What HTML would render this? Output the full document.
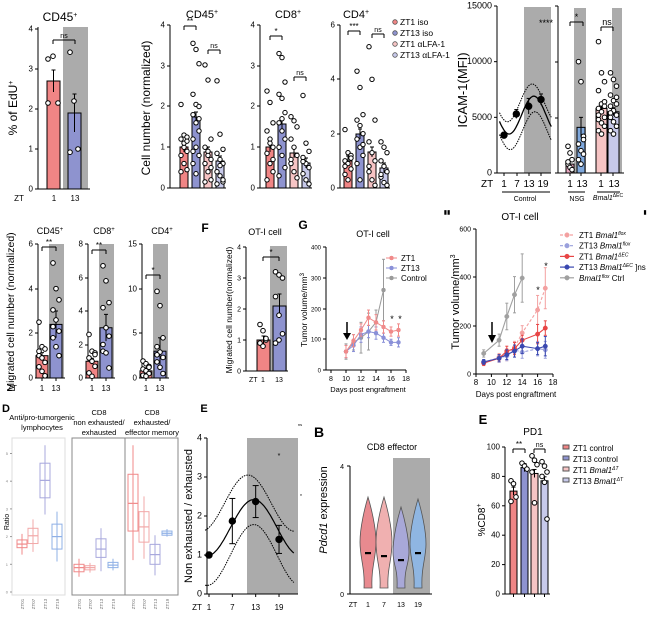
<!DOCTYPE html>
<html><head><meta charset="utf-8"><style>
html,body{margin:0;padding:0;background:#fff;}
svg{display:block;font-family:"Liberation Sans",Arial,sans-serif;}
</style></head><body>
<svg id="s" width="656" height="624" viewBox="0 0 656 624" xmlns="http://www.w3.org/2000/svg"></svg>
<script>
const S=document.getElementById('s');let H='';
const R='#f08585',B='#8e93cf',LR='#f6c4c4',LB='#c7c9ea',G='#ababab',BL='#7fa8dc';
function rect(x,y,w,h,f,st){H+=`<rect x="${x}" y="${y}" width="${w}" height="${h}" fill="${f}" ${st?`stroke="${st}" stroke-width="1"`:''}/>`;}
function line(x1,y1,x2,y2,c='#000',w=1,d=''){H+=`<line x1="${x1}" y1="${y1}" x2="${x2}" y2="${y2}" stroke="${c}" stroke-width="${w}" ${d?`stroke-dasharray="${d}"`:''}/>`;}
function txt(x,y,t,s=8,a='middle',ex=''){H+=`<text x="${x}" y="${y}" font-size="${s}" text-anchor="${a}" ${ex}>${t}</text>`;}
function vtxt(x,y,t,s=10,ex=''){H+=`<text x="${x}" y="${y}" font-size="${s}" text-anchor="middle" transform="rotate(-90 ${x} ${y})" ${ex}>${t}</text>`;}
function circ(x,y,r,f='#fff',st='#000',sw=1){H+=`<circle cx="${x}" cy="${y}" r="${r}" fill="${f}" stroke="${st}" stroke-width="${sw}"/>`;}
function yaxis(x,y0,y1,ticks,labs,s=7){line(x,y0,x,y1);ticks.forEach((ty,i)=>{line(x-3,ty,x,ty);if(labs)txt(x-5,ty+2.5,labs[i],s,'end');});}
function bar(x,w,base,top,f,err){rect(x,top,w,base-top,f,'#000');if(err){line(x+w/2,top-err,x+w/2,top+err);line(x+w/2-2,top-err,x+w/2+2,top-err);}}
function dots(cx,sp,base,sc,vals,r=2.3){vals.forEach((v,i)=>{circ(cx+((i%3)-1)*sp,base-v*sc,r);});}
function brk(x1,x2,y,t,s=8){line(x1,y,x2,y);line(x1,y,x1,y+4);line(x2,y,x2,y+4);txt((x1+x2)/2,y-2,t,s);}

// ---- Panel A1 CD45 EdU
txt(60,21,'CD45<tspan font-size="7" dy="-4">+</tspan>',12);
rect(63,27,25,162,G);
yaxis(38,27,189,[29,69,109,149,189],['4','3','2','1','0'],8);
line(38,189,90,189);
bar(47,13,189,81,R,11);bar(68,13,189,113,B,19);
dots(53,5,189,40,[3.25,3.32,2.15,2.15]);dots(74,4,189,40,[3.42,2.2,1.0,0.92]);
brk(53,75,40,'ns',7);
vtxt(17,108,'% of EdU<tspan font-size="7" dy="-4">+</tspan>',12);
txt(19,201,'ZT',8);txt(54,201,'1',8);txt(75,201,'13',8);

// ---- CD45 cell number
function cellPanel(ax,bx,title,vals,heights,top,labs,ticks,sig){
 txt(bx+22,18,title,11);
 yaxis(ax,top,188,ticks,labs,8);line(ax,188,bx+46,188);
 const cols=[R,B,LR,LB];
 heights.forEach((h,i)=>{bar(bx+i*12,8,188,h,cols[i],5);});
 vals.forEach((v,i)=>dots(bx+i*12+4,3,188,(188-top)/(labs.length-1),v,2.2));
 brk(bx+4,bx+16,sig.y1,sig.t1,8);brk(bx+28,bx+40,sig.y2,'ns',7);
}
vtxt(150,108,'Cell number (normalized)',12);
cellPanel(170,180,'CD45<tspan font-size="7" dy="-4">+</tspan>',[
[2.05,1.3,1.25,1.2,1.0,0.9,0.8,0.6,0.45,0.4,1.1,1.15],
[3.55,3.4,3.05,2.3,2.05,2.0,1.8,1.6,1.4,1.2,1.0,0.8,0.6,0.35,1.7,0.9],
[3.02,2.65,1.2,1.0,0.9,0.7,0.6,0.4,0.2,0.15,0.8,0.5],
[2.63,1.32,0.95,0.85,0.7,0.6,0.4,0.3,0.15,0.1,0.55,0.2]],[147,117,152,161],25,['4','3','2','1','0'],[25,66,106,147,188],{y1:26,t1:'**',y2:50});
cellPanel(260,266,'CD8<tspan font-size="7" dy="-4">+</tspan>',[
[2.38,2.1,1.6,1.4,1.2,1.0,0.85,0.6,0.4,0.2,1.1,0.7],
[3.3,3.2,2.6,2.3,2.2,1.85,1.6,1.4,1.2,1.0,0.8,0.5,0.3,1.7],
[1.75,1.65,1.5,1.2,1.0,0.8,0.6,0.4,0.25,0.7],
[2.27,1.1,0.9,0.75,0.6,0.5,0.35,0.2,0.1,0.65]],[147,124,153,163],25,['4','3','2','1','0'],[25,66,106,147,188],{y1:36,t1:'*',y2:77});
// CD4
(function(){const ax=340,bx=344,top=25;txt(356,18,'CD4<tspan font-size="7" dy="-4">+</tspan>',11);
yaxis(ax,top,188,[25,79,134,188],['6','4','2','0'],8);line(ax,188,bx+46,188);
const h=[161,134,152,168],cols=[R,B,LR,LB];h.forEach((t,i)=>bar(bx+i*12,8,188,t,cols[i],5));
const sc=163/6;[[2.15,1.3,1.2,1.0,0.9,0.7,0.5,0.3,1.1,0.8],[4.3,3.7,2.7,2.5,2.3,2.0,1.8,1.5,1.2,0.9,0.3,1.6],[5.2,4.0,2.5,1.7,1.3,1.0,0.6,0.3,0.1,0.8],[1.7,1.5,1.3,1.0,0.8,0.6,0.4,0.2,0.1,0.5]].forEach((v,i)=>dots(bx+i*12+4,3,188,sc,v,2.2));
brk(348,360,31,'***',8);brk(372,384,34,'ns',7);})();
// legend
[[R,'ZT1 iso'],[B,'ZT13 iso'],[LR,'ZT1 αLFA-1'],[LB,'ZT13 αLFA-1']].forEach((l,i)=>{circ(395,22+i*11,2.3,l[0],'#555',0.8);txt(400,25+i*11,l[1],8.5,'start');});

// ---- ICAM
(function(){const y=v=>173-v*167/15000;
rect(524,7,27,166,G);rect(574,8,12,165,G);rect(612,8,10,165,G);
yaxis(497,6,173,[y(15000),y(10000),y(5000),y(0)],['15000','10000','5000','0'],9);line(497,173,551,173);
[504,517,529,541].forEach(x=>line(x,173,x,176));
vtxt(467,90,'ICAM-1(MFI)',13);
const X=t=>504+2.056*(t-1);
const mid=t=>5200+1700*Math.cos(2*Math.PI*(t-15.5)/24);
function cur(f,d,w){let p='';for(let t=-1.2;t<=24;t+=0.4){p+=(p?'L':'M')+X(t).toFixed(1)+','+y(f(t)).toFixed(1);}H+=`<path d="${p}" fill="none" stroke="#000" stroke-width="${w}" ${d?`stroke-dasharray="${d}"`:''}/>`;}
cur(mid,'',1.3);cur(t=>mid(t+0.8)+1100,'1.5,1',1);cur(t=>mid(t-0.5)-1400,'1.5,1',1);
[[1,3400,250],[7,5300,400],[13,6000,700],[19,6600,500]].forEach(d=>{line(X(d[0]),y(d[1]+d[2]),X(d[0]),y(d[1]-d[2]));line(X(d[0])-2,y(d[1]+d[2]),X(d[0])+2,y(d[1]+d[2]));circ(X(d[0]),y(d[1]),3.2,'#000');});
txt(546,26,'****',9);
// NSG/Bmal
line(558,6,558,173);[6,62,118,173].forEach(t=>line(555,t,558,t));line(558,173,624,173);
bar(566,8,173,y(800),'#e8a8c0',3);bar(577,8,173,y(4100),BL,10);
dots(570,2,173,167/15000,[2400,1800,1200,800,500,300,1000]);dots(581,2.5,173,167/15000,[10000,8200,3300,2600,2000,1700,1200,800,3000]);
bar(596,11,173,y(5800),LR,4);bar(608,11,173,y(5500),LB,4);
dots(601.5,3,173,167/15000,[11800,9000,8200,7400,6200,6000,5800,5500,5000,4800,4500,4200,3800,3500,6400,5200]);
dots(613.5,3,173,167/15000,[9000,8400,7800,7000,6500,6200,6000,5600,5200,5000,4600,4200,3800,3500,6800,5400]);
brk(570,583,22,'*',9);brk(601,613,27,'ns',9);
[570,581,601,613].forEach(x=>line(x,173,x,176));
txt(481,187,'ZT',10,'start');txt(504,187,'1',10);txt(517,187,'7',10);txt(529,187,'13',10);txt(543,187,'19',10);
txt(570,187,'1',10);txt(582,187,'13',10);txt(601,187,'1',10);txt(614,187,'13',10);
line(502,192,550,192);line(568,192,585,192);line(597,192,620,192);
txt(525,201,'Control',7);txt(577,201,'NSG',7);txt(608,200,'<tspan font-style="italic">Bmal1</tspan><tspan font-size="5" dy="-3">ΔEC</tspan>',7);})();

// ---- migrated
function mig(ax,title,tx,labs,ticks,max,redH,blueH,rv,bv,sig,sy){
 txt(tx,234,title,9);rect(ax+11,244,15,134,G);
 yaxis(ax,244,378,ticks,labs,8);line(ax,378,ax+27,378);
 const sc=134/max;bar(ax-2,12,378,378-redH*sc,R,3);bar(ax+12,12,378,378-blueH*sc,B,(max/10)*sc);
 dots(ax+4,3,378,sc,rv);dots(ax+18,3,378,sc,bv);brk(ax+4,ax+18,sy,sig,8);
 line(ax+4,378,ax+4,381);line(ax+18,378,ax+18,381);txt(ax+4,391,'1',8);txt(ax+18,391,'13',8);
}
mig(38,'CD45<tspan font-size="6" dy="-3">+</tspan>',50,['6','4','2','0'],[244,289,333,378],6,1.0,2.4,[2.5,1.4,1.3,1.0,0.9,0.7,0.5,0.3,0.1,1.2],[5.15,4.0,3.5,3.05,2.6,2.1,1.8,1.4,1.0,2.3],'**',247);
mig(88,'CD8<tspan font-size="6" dy="-3">+</tspan>',104,['8','6','4','2','0'],[244,278,311,345,378],8,1.0,3.0,[2.6,1.6,1.5,1.2,1.0,0.7,0.3,0.1,1.4],[6.7,5.8,4.5,4.2,3.0,2.5,1.6,1.5,0.6,2.0],'**',250);
mig(142,'CD4<tspan font-size="6" dy="-3">+</tspan>',162,['15','10','5','0'],[244,289,333,378],15,0.8,3.0,[1.9,1.6,1.3,1.0,0.8,0.5,0.3,0.2,1.2],[9.7,8.1,4.5,3.5,2.9,2.3,1.8,1.2,0.5,2.6],'*',275);
vtxt(14,312,'Migrated cell number (normalized)',10.5);txt(12,391,'ZT',8);

// ---- F
txt(205,232,'F',12,'middle','font-weight="bold"');txt(265,235,'OT-I cell',9);
rect(270,246,17,125,G);yaxis(246,247,371,[247,278,309,340,371],['4','3','2','1','0'],7);line(246,371,288,371);
bar(257,13,371,340,R,4);bar(273,13,371,306,B,12);
dots(263,3,371,31,[1.5,1.3,1.0,0.9,0.8,1.05]);dots(279,3.5,371,31,[3.2,3.1,3.0,2.4,1.8,1.2,0.9,1.0]);
brk(263,279,257,'*',8);txt(249,382,'ZT',7,'start');txt(263,382,'1',7);txt(279,382,'13',7);
vtxt(232,310,'Migrated cell number(normalized)',8.5);

// ---- G
(function(){txt(303,229,'G',12,'middle','font-weight="bold"');txt(373,237,'OT-I cell',9);
const X=d=>331+7.5*(d-8),Y=v=>370-v*0.3075;
yaxis(326,247,370,[247,278,309,339,370],['400','300','200','100','0'],6);
line(326,370,406,370);[8,10,12,14,16,18].forEach(d=>{line(X(d),370,X(d),373);txt(X(d),381,d,7);});
txt(368,392,'Days post engraftment',7.5);vtxt(307,310,'Tumor volume/mm<tspan font-size="6" dy="-3">3</tspan>',8.5);
function ser(c,pts,d,e){let p='';pts.forEach(q=>{p+=(p?'L':'M')+X(q[0])+','+Y(q[1]);});H+=`<path d="${p}" fill="none" stroke="${c}" stroke-width="1" ${d?`stroke-dasharray="${d}"`:''}/>`;pts.forEach(q=>{const ee=q[2]||e;line(X(q[0]),Y(q[1]-ee),X(q[0]),Y(q[1]+ee),c);line(X(q[0])-1.5,Y(q[1]+ee),X(q[0])+1.5,Y(q[1]+ee),c);line(X(q[0])-1.5,Y(q[1]-ee),X(q[0])+1.5,Y(q[1]-ee),c);circ(X(q[0]),Y(q[1]),2,c,c,0.5);});}
ser('#9a9a9a',[[10,60,25],[11,90,25],[12,105,50],[13,125,60],[14,155,40],[15,260,100]],'',20);
ser('#8a90d8',[[10,60,20],[11,80,20],[12,115,25],[13,125,20],[14,120,20],[15,105,15],[16,90,10],[17,90,15]],'',15);
ser('#f08a8a',[[10,60,20],[11,95,20],[12,130,20],[13,170,25],[14,155,25],[15,140,20],[16,125,15],[17,130,20]],'',15);
line(347,322,347,336,'#000',1.5);H+=`<polygon points="343,333 351,333 347,340" fill="#000"/>`;
txt(392,322,'*',9);txt(400,322,'*',9);
[['#f08a8a','ZT1'],['#8a90d8','ZT13'],['#9a9a9a','Control']].forEach((l,i)=>{line(386,258+i*10,397,258+i*10,l[0]);circ(391.5,258+i*10,2,l[0],l[0],0.5);txt(401,261+i*10,l[1],8,'start');});})();

// ---- H
(function(){txt(447,214,'▮▮',6);txt(645,214,'▮',6);txt(520,220,'OT-I cell',10);
const X=d=>476+7.7*(d-8),Y=v=>374-v*0.2417;
yaxis(476,229,374,[229,277,326,374],['600','400','200','0'],7);line(476,374,553,374);
[8,10,12,14,16,18].forEach(d=>{line(X(d),374,X(d),377);txt(X(d),385,d,8);});
txt(516,397,'Days post engraftment',8);vtxt(459,302,'Tumor volume/mm<tspan font-size="7" dy="-4">3</tspan>',11);
function ser(c,pts,d){let p='';pts.forEach(q=>{p+=(p?'L':'M')+X(q[0])+','+Y(q[1]);});H+=`<path d="${p}" fill="none" stroke="${c}" stroke-width="1.1" ${d?`stroke-dasharray="${d}"`:''}/>`;pts.forEach(q=>{const ee=q[2];line(X(q[0]),Y(q[1]-ee),X(q[0]),Y(q[1]+ee),c);line(X(q[0])-1.5,Y(q[1]+ee),X(q[0])+1.5,Y(q[1]+ee),c);line(X(q[0])-1.5,Y(q[1]-ee),X(q[0])+1.5,Y(q[1]-ee),c);circ(X(q[0]),Y(q[1]),2.2,c,c,0.5);});}
ser('#a0a0a0',[[9,85,15],[11,140,25],[12,238,55],[13,328,75],[14,397,100]],'');
ser('#f3a0a0',[[9,45,10],[11,70,15],[12,80,25],[13,110,25],[14,170,30],[16,265,60],[17,355,85]],'3,2');
ser('#9aa0dc',[[9,50,10],[11,65,15],[12,75,20],[13,100,30],[14,90,25],[16,105,30],[17,100,35]],'3,2');
ser('#e84545',[[9,45,10],[11,65,15],[12,95,20],[13,105,25],[14,140,20],[16,165,40],[17,190,30]],'');
ser('#3a48b0',[[9,50,10],[11,65,15],[12,80,20],[13,95,25],[14,115,30],[16,105,25],[17,115,40]],'');
line(492,322,492,338,'#000',1.5);H+=`<polygon points="488,335 496,335 492,343" fill="#000"/>`;
txt(538,293,'*',9);txt(546,269,'*',9);
const L=[['#f3a0a0','ZT1 <tspan font-style="italic">Bmal1</tspan><tspan font-size="5" dy="-3" font-style="italic">flox</tspan>','3,2'],['#9aa0dc','ZT13 <tspan font-style="italic">Bmal1</tspan><tspan font-size="5" dy="-3" font-style="italic">flox</tspan>','3,2'],['#e84545','ZT1 <tspan font-style="italic">Bmal1</tspan><tspan font-size="5" dy="-3" font-style="italic">ΔEC</tspan>',''],['#3a48b0','ZT13 <tspan font-style="italic">Bmal1</tspan><tspan font-size="5" dy="-3" font-style="italic">ΔEC</tspan><tspan dy="3"> ]ns</tspan>',''],['#a0a0a0','<tspan font-style="italic">Bmal1</tspan><tspan font-size="5" dy="-3" font-style="italic">flox</tspan><tspan dy="3"> Ctrl</tspan>','']];
L.forEach((l,i)=>{const yy=235+i*10.7;line(560,yy,574,yy,l[0],1.2,l[2]);circ(567,yy,2.3,l[0],l[0],0.5);txt(579,yy+3,l[1],8,'start');});})();

// ---- D
txt(6,412,'D',11,'middle','font-weight="bold"');
txt(42,420,'Anti/pro-tumorgenic',7.5);txt(42,430,'lymphocytes',7.5);
txt(99,415,'CD8',7.5);txt(99,425,'non exhausted/',7.5);txt(99,435,'exhausted',7.5);
txt(152,415,'CD8',7.5);txt(152,425,'exhausted/',7.5);txt(152,435,'effector memory',7.5);
vtxt(9,522,'Ratio',7);
const Yd=v=>592-27.7*v;
[[12,65,'#ddd'],[72,125,'#888'],[125,178,'#888']].forEach(p=>{rect(p[0],438,p[1]-p[0],157,'#fff',p[2]);});
[0,1,2,3,4,5].forEach(v=>{line(10,Yd(v),12,Yd(v),'#999');txt(8,Yd(v)+1.5,v,4,'end','fill="#888"');});
const bc=['#f08a8a','#f2a8a8','#a8a8dd','#8fb0e6'];
const bd=[[[1.6,1.73,1.88,1.35,2.1],[1.75,2.03,2.3,1.45,2.62],[3.4,4.03,4.65,2.8,5.3],[1.55,2.0,2.45,1.1,2.9]],
[[0.73,0.88,1.0,0.55,1.2],[0.8,0.88,0.95,0.7,1.05],[1.25,1.55,1.92,0.75,2.3],[0.88,0.97,1.07,0.78,1.2]],
[[2.2,3.2,4.25,1.15,5.3],[1.8,2.35,2.9,1.2,3.45],[1.0,1.35,1.72,0.6,2.05],[2.05,2.12,2.2,2.0,2.27]]];
const cx=[[22,33,45,57],[79,90,101,113],[133,144,155,167]];
bd.forEach((pan,pi)=>pan.forEach((b,i)=>{const x=cx[pi][i],c=bc[i];line(x,Yd(b[4]),x,Yd(b[3]),c);rect(x-5,Yd(b[2]),10,Yd(b[0])-Yd(b[2]),'none',c);line(x-5,Yd(b[1]),x+5,Yd(b[1]),c,1.2);
H+=`<text x="${x+2}" y="608" font-size="4.5" fill="#777" text-anchor="middle" transform="rotate(-90 ${x} 606)">${['ZT01','ZT07','ZT13','ZT19'][i]}</text>`;}));

// ---- E (left)
(function(){txt(204,412,'E',11,'middle','font-weight="bold"');
const X=t=>209+3.89*(t-1),Y=v=>594-39*v;
rect(247,438,51,156,G);
yaxis(207,438,594,[Y(4),Y(3),Y(2),Y(1),Y(0)],['4','3','2','1','0'],9);line(207,594,298,594);
[1,7,13,19].forEach(t=>{line(X(t),594,X(t),597);txt(X(t),610,t,8);});txt(197,610,'ZT',8);
vtxt(192,516,'Non exhausted / exhausted',11);
function cur(f,d,w){let p='';for(let t=0;t<=23.1;t+=0.3){p+=(p?'L':'M')+X(t).toFixed(1)+','+Y(f(t)).toFixed(1);}H+=`<path d="${p}" fill="none" stroke="#000" stroke-width="${w}" ${d?`stroke-dasharray="${d}"`:''}/>`;}
cur(t=>1.7+0.72*Math.cos(2*Math.PI*(t-12.5)/24),'',1.2);
cur(t=>2.33+0.72*Math.cos(2*Math.PI*(t-11)/24),'1.5,1',1);
cur(t=>1.0+0.78*Math.cos(2*Math.PI*(t-12.5)/24),'1.5,1',1);
[[1,1.0,0.05],[7,1.87,0.58],[13,2.37,0.41],[19,1.4,0.36]].forEach(d=>{line(X(d[0]),Y(d[1]-d[2]),X(d[0]),Y(d[1]+d[2]));line(X(d[0])-3,Y(d[1]-d[2]),X(d[0])+3,Y(d[1]-d[2]));line(X(d[0])-3,Y(d[1]+d[2]),X(d[0])+3,Y(d[1]+d[2]));circ(X(d[0]),Y(d[1]),3.2,'#000');});
txt(279,458,'*',7);txt(300,426,'ns',4);txt(301,498,'*',5);})();

// ---- B violins
txt(319,437,'B',14,'middle','font-weight="bold"');
vtxt(327,510,'<tspan font-style="italic">Pdcd1</tspan> expression',11);
txt(392,450,'CD8 effector',9);rect(393,458,37,136,G);
line(350,466,350,594);line(347,466,350,466);line(347,594,350,594);txt(344,469,'4',7,'end');txt(344,597,'0',7,'end');line(350,594,432,594);
[[368,497,553,'#e88a8f'],[384,497,556,'#f0b0b0'],[401,507,560,'#a8a8d8'],[418,499,553,'#8fb6e2']].forEach(v=>{const x=v[0],t=v[1],b=588,m=v[2];
const w=8;H+=`<path d="M${x},${t} C${x+3},${t+10} ${x+w},${t+30} ${x+w},${t+45} C${x+w},${m+5} ${x+3},${b-20} ${x+4},${b} L${x-4},${b} C${x-3},${b-20} ${x-w},${m+5} ${x-w},${t+45} C${x-w},${t+30} ${x-3},${t+10} ${x},${t}Z" fill="${v[3]}" stroke="#555" stroke-width="0.8"/>`;rect(x-3,m-1,6,2.2,'#000');});
txt(353,607,'ZT',7);txt(368,607,'1',7);txt(384,607,'7',7);txt(401,607,'13',7);txt(418,607,'19',7);

// ---- E right PD1
(function(){txt(483,424,'E',13,'middle','font-weight="bold"');txt(533,435,'PD1',10);
const Y=v=>594-1.47*v;
yaxis(505,447,594,[Y(100),Y(80),Y(60),Y(40),Y(20),Y(0)],['100','80','60','40','20','0'],8);line(505,594,550,594);
vtxt(485,520,'%CD8<tspan font-size="7" dy="-4">+</tspan>',10);
const cols=[R,B,LR,LB],vals=[70,86,82,77],xs=[510,521,531,541];
xs.forEach((x,i)=>{bar(x,7,594,Y(vals[i]),cols[i],4);line(x+3.5,594,x+3.5,597);});
dots(513.5,2.5,594,1.47,[77,75,66,63]);dots(524.5,2.5,594,1.47,[89,87,85]);dots(534.5,2.5,594,1.47,[94,91,88,83,62]);dots(544.5,2.5,594,1.47,[90,87,83,80,76,51]);
brk(513,525,449,'**',8);brk(534,545,449,'ns',7);
const L=['ZT1 control','ZT13 control','ZT1 <tspan font-style="italic">Bmal1</tspan><tspan font-size="5" dy="-3" font-style="italic">ΔT</tspan>','ZT13 <tspan font-style="italic">Bmal1</tspan><tspan font-size="5" dy="-3" font-style="italic">ΔT</tspan>'];
L.forEach((l,i)=>{rect(563,445+i*11,6,4,cols[i],'#555');txt(573,451+i*11,l,8,'start');});})();

S.innerHTML=H;
</script>
</body></html>
